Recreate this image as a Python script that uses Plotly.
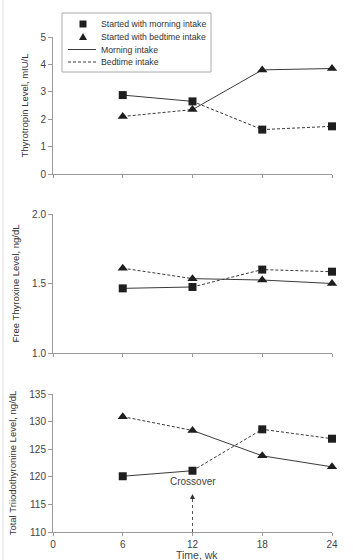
import plotly.graph_objects as go

weeks = [6, 12, 18, 24]

# Thyrotropin (mIU/L)
tsh_morning_start = [2.88, 2.65, 1.62, 1.74]
tsh_bedtime_start = [2.10, 2.35, 3.80, 3.85]
# Free thyroxine (ng/dL)
ft4_morning_start = [1.465, 1.475, 1.60, 1.585]
ft4_bedtime_start = [1.61, 1.535, 1.525, 1.50]
# Total triiodothyronine (ng/dL)
t3_morning_start = [120.1, 121.1, 128.6, 126.9]
t3_bedtime_start = [130.9, 128.4, 123.8, 121.8]

x_ticks = [0, 6, 12, 18, 24]
legend_labels = ["Started with morning intake", "Started with bedtime intake",
                 "Morning intake", "Bedtime intake"]
panels = [
    dict(ms=tsh_morning_start, bs=tsh_bedtime_start, rng=[0, 5], tickvals=[0, 1, 2, 3, 4, 5],
         ticktext=["0", "1", "2", "3", "4", "5"], title="Thyrotropin Level, mIU/L"),
    dict(ms=ft4_morning_start, bs=ft4_bedtime_start, rng=[1.0, 2.0], tickvals=[1.0, 1.5, 2.0],
         ticktext=["1.0", "1.5", "2.0"], title="Free Thyroxine Level, ng/dL"),
    dict(ms=t3_morning_start, bs=t3_bedtime_start, rng=[110, 135], tickvals=[110, 115, 120, 125, 130, 135],
         ticktext=["110", "115", "120", "125", "130", "135"], title="Total Triiodothyronine Level, ng/dL"),
]

FONT = "Liberation Sans Narrow, Liberation Sans, Arial, sans-serif"
AX = "#9a9a9a"
LINE = "#3a3a3a"
MK = "#1e1e1e"
TXT = "#444"

H, W = 560, 353
ml, mr, mt, mb = 53, 21, 37, 28
ph = H - mt - mb
pw = W - ml - mr


def fy(ypx):
    return (H - mb - ypx) / ph


def fx(xpx):
    return (xpx - ml) / pw


domains = [(fy(174), fy(37)), (fy(353), fy(214)), (fy(532), fy(394))]

fig = go.Figure()
for i, p in enumerate(panels):
    n = "" if i == 0 else str(i + 1)
    xa, ya = "x" + n, "y" + n
    ms, bs = p["ms"], p["bs"]
    # Morning intake line: morning-start group weeks 6-12, bedtime-start group weeks 12-24
    fig.add_trace(go.Scatter(x=weeks[:2] + [None] + weeks[1:], y=ms[:2] + [None] + bs[1:],
                             mode="lines", line=dict(color=LINE, width=1),
                             name="Morning intake", showlegend=False, xaxis=xa, yaxis=ya,
                             cliponaxis=False))
    # Bedtime intake line
    fig.add_trace(go.Scatter(x=weeks[:2] + [None] + weeks[1:], y=bs[:2] + [None] + ms[1:],
                             mode="lines", line=dict(color=LINE, width=1, dash="3px,2px"),
                             name="Bedtime intake", showlegend=False, xaxis=xa, yaxis=ya,
                             cliponaxis=False))
    fig.add_trace(go.Scatter(x=weeks, y=ms, mode="markers",
                             marker=dict(symbol="square", size=8, color=MK),
                             name="Started with morning intake", showlegend=False,
                             xaxis=xa, yaxis=ya, cliponaxis=False))
    fig.add_trace(go.Scatter(x=weeks, y=bs, mode="markers",
                             marker=dict(symbol="triangle-up", size=9, color=MK),
                             name="Started with bedtime intake", showlegend=False,
                             xaxis=xa, yaxis=ya, cliponaxis=False))

    last = i == 2
    fig.update_layout(**{
        "xaxis" + n: dict(domain=[0, 1], range=[0, 24], anchor=ya, showgrid=False, zeroline=False,
                          showline=True, linecolor=AX, linewidth=1, ticks="outside", ticklen=3,
                          tickcolor=AX, tickvals=x_ticks, showticklabels=last, automargin=False,
                          tickfont=dict(size=10, color=TXT, family=FONT)),
        "yaxis" + n: dict(domain=list(domains[i]), range=p["rng"], anchor=xa, showgrid=False,
                          zeroline=False, showline=True, linecolor=AX, linewidth=1,
                          ticks="outside", ticklen=4, tickcolor=AX, tickvals=p["tickvals"],
                          ticktext=p["ticktext"], tickfont=dict(size=10, color=TXT, family=FONT),
                          automargin=False,
                          title=dict(text=p["title"], font=dict(size=9.5, color="#333", family=FONT),
                                     standoff=10)),
    })

# x-axis title
fig.add_annotation(xref="paper", yref="paper", x=fx(197), y=fy(554.5), text="Time, wk",
                   showarrow=False, xanchor="center", yanchor="middle",
                   font=dict(size=10.5, color=TXT, family=FONT))

# Crossover marker
fig.add_shape(type="line", xref="x3", yref="y3", x0=12, x1=12, y0=110, y1=116.2,
              line=dict(color="#555", width=1, dash="dot"))
fig.add_annotation(xref="x3", yref="y3", x=12, y=116.9, ax=0, ay=5, showarrow=True,
                   arrowhead=2, arrowsize=1, arrowwidth=1, arrowcolor="#333", text="")
fig.add_annotation(xref="x3", yref="y3", x=12, y=117.8, text="Crossover", showarrow=False,
                   yanchor="bottom", font=dict(size=10, color=TXT, family=FONT))

# Manual legend
fig.add_shape(type="rect", xref="paper", yref="paper", x0=fx(62), x1=fx(211), y0=fy(72), y1=fy(13),
              line=dict(color="#aaa", width=1), fillcolor="white", layer="above")
rows = [24, 37, 49.5, 62]
fig.add_shape(type="rect", xref="paper", yref="paper", xsizemode="pixel", ysizemode="pixel",
              xanchor=fx(83), yanchor=fy(rows[0]), x0=-3.5, x1=3.5, y0=-3.5, y1=3.5,
              fillcolor=MK, line=dict(width=0), layer="above")
fig.add_shape(type="path", xref="paper", yref="paper", xsizemode="pixel", ysizemode="pixel",
              xanchor=fx(83), yanchor=fy(rows[1]), path="M -4,-3 L 4,-3 L 0,4 Z",
              fillcolor=MK, line=dict(width=0), layer="above")
fig.add_shape(type="line", xref="paper", yref="paper", x0=fx(68), x1=fx(96), y0=fy(rows[2]), y1=fy(rows[2]),
              line=dict(color=LINE, width=1), layer="above")
fig.add_shape(type="line", xref="paper", yref="paper", x0=fx(68), x1=fx(96), y0=fy(rows[3]), y1=fy(rows[3]),
              line=dict(color=LINE, width=1, dash="3px,2px"), layer="above")
for lbl, r in zip(legend_labels, rows):
    fig.add_annotation(xref="paper", yref="paper", x=fx(99), y=fy(r), text=lbl, showarrow=False,
                       xanchor="left", yanchor="middle", font=dict(size=8.7, color="#333", family=FONT))

# faint page border on the left
fig.add_shape(type="line", xref="paper", yref="paper", x0=fx(3), x1=fx(3), y0=fy(560), y1=fy(0),
              line=dict(color="#e0e0e0", width=1))

fig.update_layout(
    width=W, height=H, margin=dict(l=ml, r=mr, t=mt, b=mb, autoexpand=False),
    paper_bgcolor="white", plot_bgcolor="white",
    font=dict(family=FONT, size=10, color="#333"),
    showlegend=False,
)

fig.write_html("out.html")
